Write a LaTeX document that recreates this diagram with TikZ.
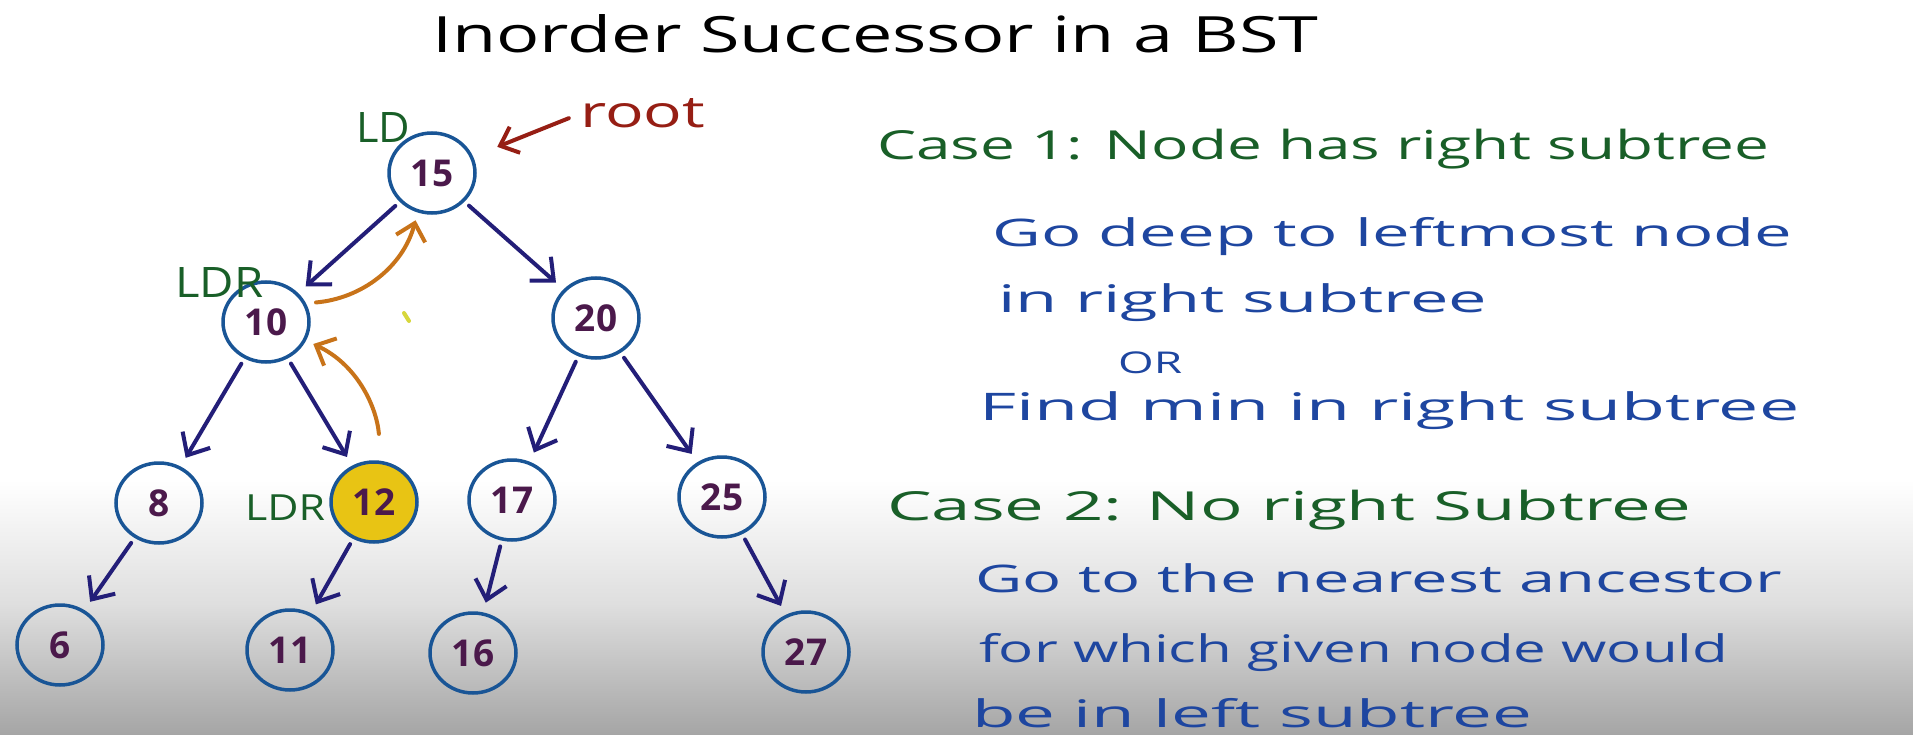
\documentclass[tikz,border=0pt]{standalone}
\usepackage{fontspec}
\setmainfont{Open Sans}
\usetikzlibrary{arrows.meta,shapes.geometric}
\definecolor{navyA}{RGB}{35,30,120}
\definecolor{circ}{RGB}{25,85,150}
\definecolor{num}{RGB}{75,25,75}
\definecolor{greenT}{RGB}{25,95,40}
\definecolor{blueT}{RGB}{30,70,160}
\definecolor{rootc}{RGB}{150,30,20}
\definecolor{orangeA}{RGB}{200,115,25}
\definecolor{yellowF}{RGB}{232,196,20}
\definecolor{grayM}{RGB}{222,222,222}
\definecolor{grayB}{RGB}{165,165,165}
\definecolor{strayY}{RGB}{215,215,60}
\newcommand\tw[2]{\resizebox{#1}{\height}{#2}}
\begin{document}
\begin{tikzpicture}[x=1pt,y=-1pt,
  bst/.style={ellipse, draw=circ, line width=3.5pt, minimum width=86pt, minimum height=80pt,
    inner sep=0pt, text=num, font=\fontsize{37}{37}\selectfont\bfseries},
  hl/.style={bst, fill=yellowF},
  edge/.style={draw=navyA, line width=4pt, line cap=round, line join=round,
    -{Straight Barb[length=18pt,width=32pt]}, shorten <=6pt, shorten >=10pt},
  orarrow/.style={draw=orangeA, line width=4pt, line cap=round, line join=round,
    -{Straight Barb[length=16pt,width=30pt]}},
  rootarrow/.style={draw=rootc, line width=4pt, line cap=round, line join=round,
    -{Straight Barb[length=16pt,width=28pt]}},
  txt/.style={anchor=base west, inner sep=0pt},
  green1/.style={txt, text=greenT, font=\fontsize{40}{40}\selectfont},
  blue1/.style={txt, text=blueT, font=\fontsize{38}{38}\selectfont},
  lbl/.style={txt, text=greenT, font=\fontsize{42}{42}\selectfont}]
\useasboundingbox (0,0) rectangle (1913,735);
\fill[white] (0,0) rectangle (1913,735);
\shade[top color=white, bottom color=grayM] (0,480) rectangle (1913,606);
\shade[top color=grayM, bottom color=grayB] (0,605) rectangle (1913,735);

% title
\node[txt, font=\fontsize{50}{50}\selectfont] (title) at (432,53) {\tw{886pt}{Inorder Successor in a BST}};

% tree nodes
\node[bst] (n15) at (432,173) {15};
\node[bst] (n10) at (266,322) {10};
\node[bst] (n20) at (596,318) {20};
\node[bst] (n8)  at (159,503) {8};
\node[hl]  (n12) at (374,502) {12};
\node[bst] (n17) at (512,500) {17};
\node[bst] (n25) at (722,497) {25};
\node[bst] (n6)  at (60,645)  {6};
\node[bst] (n11) at (290,650) {11};
\node[bst] (n16) at (473,653) {16};
\node[bst] (n27) at (806,652) {27};

% labels
\node[lbl] (ld) at (356,143) {\tw{54pt}{LD}};
\node[lbl] (ldr1) at (175,298) {\tw{88pt}{LDR}};
\node[lbl, font=\fontsize{36}{36}\selectfont] (ldr2) at (245,520) {\tw{80pt}{LDR}};
\node[txt, text=rootc, font=\fontsize{44}{44}\selectfont] (root) at (580,128) {\tw{125pt}{root}};

% tree edges
\draw[edge] (n15) -- (n10);
\draw[edge] (n15) -- (n20);
\draw[edge] (n10) -- (n8);
\draw[edge] (n10) -- (n12);
\draw[edge] (n20) -- (n17);
\draw[edge] (n20) -- (n25);
\draw[edge] (n8) -- (n6);
\draw[edge] (n12) -- (n11);
\draw[edge] (n17) -- (n16);
\draw[edge] (n25) -- (n27);

% root pointer
\draw[rootarrow, shorten <=12pt, shorten >=26pt] (root.west) -- (n15);

% orange successor arrows
\draw[orarrow, shorten <=10pt, shorten >=8pt] (n10.25) to[out=5,in=-105] (n15.-110);
\draw[orarrow, shorten <=27pt, shorten >=8pt] (n12.80) to[out=95,in=-25] (n10.-25);

% stray mark
\draw[strayY, line width=4pt, line cap=round] (404,313) -- (409,321);

% right side text
\node[green1] (c1) at (877,160) {\tw{892pt}{Case 1: Node has right subtree}};
\node[blue1] (c1a) at (992,247) {\tw{800pt}{Go deep to leftmost node}};
\node[blue1] (c1b) at (998,312) {\tw{489pt}{in right subtree}};
\node[blue1, font=\fontsize{30}{30}\selectfont] (or) at (1118,373) {\tw{64pt}{OR}};
\node[blue1] (c1c) at (979,420) {\tw{820pt}{Find min in right subtree}};
\node[green1] (c2) at (887,520) {\tw{804pt}{Case 2: No right Subtree}};
\node[blue1] (c2a) at (975,592) {\tw{807pt}{Go to the nearest ancestor}};
\node[blue1] (c2b) at (979,662) {\tw{749pt}{for which given node would}};
\node[blue1] (c2c) at (972,727) {\tw{560pt}{be in left subtree}};
\end{tikzpicture}
\end{document}
